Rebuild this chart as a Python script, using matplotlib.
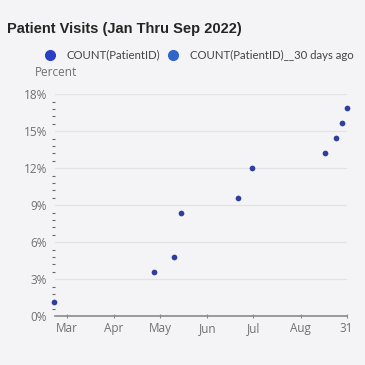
import matplotlib
matplotlib.use("Agg")
import matplotlib.pyplot as plt
import matplotlib.dates as mdates
from matplotlib.lines import Line2D
from matplotlib.ticker import FixedLocator, MultipleLocator, FuncFormatter
import datetime as dt

# ---- data ----
dates = ["2022-02-21", "2022-04-27", "2022-05-10", "2022-05-15", "2022-06-21",
         "2022-06-30", "2022-08-17", "2022-08-24", "2022-08-28", "2022-08-31"]
percent = [1.15, 3.6, 4.8, 8.4, 9.6, 12.0, 13.25, 14.45, 15.7, 16.9]
tick_dates = ["2022-03-01", "2022-04-01", "2022-05-01", "2022-06-01",
              "2022-07-01", "2022-08-01", "2022-08-31"]
tick_labels = ["Mar", "Apr", "May", "Jun", "Jul", "Aug", "31"]
y_ticks = [0, 3, 6, 9, 12, 15, 18]
legend_labels = ["COUNT(PatientID)", "COUNT(PatientID)__30 days ago"]
title = "Patient Visits (Jan Thru Sep 2022)"

plt.rcParams['font.family'] = ['Open Sans', 'DejaVu Sans']

bg = '#f4f4f6'
fig = plt.figure(figsize=(3.65, 3.65), dpi=100, facecolor=bg)
ax = fig.add_axes([0.151, 0.134, 0.80, 0.608])
ax.set_facecolor(bg)

x = [dt.datetime.strptime(d, "%Y-%m-%d") for d in dates]
ax.scatter(x, percent, s=17, color='#303f9f', zorder=3, linewidths=0, clip_on=False)

ax.set_xlim(dt.datetime(2022, 2, 21, 12), dt.datetime(2022, 8, 31, 6))
ax.set_ylim(0, 18)

tx = [mdates.date2num(dt.datetime.strptime(d, "%Y-%m-%d")) for d in tick_dates]
ax.xaxis.set_major_locator(FixedLocator(tx))
ax.set_xticklabels(tick_labels)
ax.yaxis.set_major_locator(FixedLocator(y_ticks))
ax.yaxis.set_major_formatter(FuncFormatter(lambda v, p: f"{int(v)}%"))
ax.yaxis.set_minor_locator(MultipleLocator(0.6))

for s in ['top', 'right', 'left']:
    ax.spines[s].set_visible(False)
ax.spines['bottom'].set_color('#8a8a8a')
ax.spines['bottom'].set_linewidth(1.2)

ax.tick_params(axis='x', colors='#8a8a8a', labelcolor='#707070', labelsize=8.5,
               length=3, width=0.8, pad=3, direction='inout')
ax.tick_params(axis='y', which='major', length=0, labelcolor='#707070',
               labelsize=8.5, pad=6)
ax.tick_params(axis='y', which='minor', length=2, width=0.8, colors='#666666',
               direction='out', pad=0)

for yv in y_ticks[1:]:
    ax.axhline(yv, color='#e3e3e6', linewidth=0.9, zorder=1)

fig.text(0.020, 0.921, title, fontsize=10.5, fontweight='bold', color='#252525',
         family=['Liberation Sans', 'DejaVu Sans'], va='center', ha='left')

handles = [Line2D([], [], marker='o', linestyle='', markersize=7, color='#2b3fc4'),
           Line2D([], [], marker='o', linestyle='', markersize=7, color='#2f66c8')]
fig.legend(handles, legend_labels, loc='center left', bbox_to_anchor=(0.1214, 0.849),
           ncol=2, frameon=False, handletextpad=0.99,
           columnspacing=0.55, handlelength=1.0, labelcolor='#444444',
           borderaxespad=0, borderpad=0,
           prop={'family': ['Lato', 'DejaVu Sans'], 'size': 8.2})

fig.text(0.096, 0.800, "Percent", fontsize=8.5, color='#707070', va='center', ha='left')

fig.savefig("out.png", dpi=100, facecolor=bg)
